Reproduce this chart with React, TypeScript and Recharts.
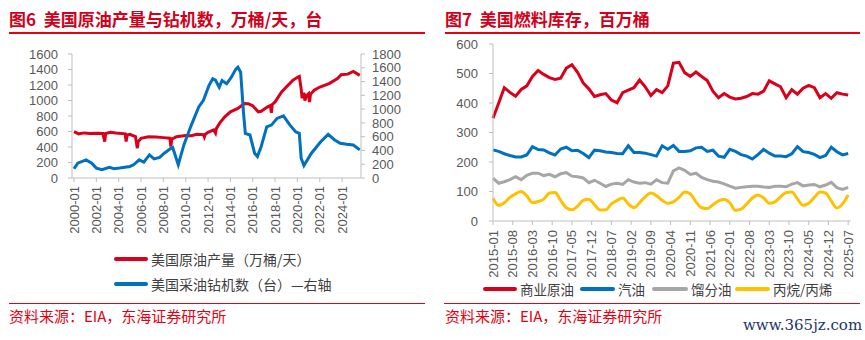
import React from 'react';
import { LineChart, Line, XAxis, YAxis } from 'recharts';

// ---------- Figure 6 data ----------
const prodDates = ["2000-01","2000-06","2000-12","2001-06","2002-01","2002-08","2002-10","2002-11","2003-04","2003-10","2004-01","2004-08","2004-09","2004-10","2005-01","2005-07","2005-09","2005-10","2006-01","2006-09","2007-05","2008-01","2008-08","2008-09","2008-10","2009-03","2010-01","2010-07","2011-01","2011-08","2011-09","2011-10","2012-01","2012-07","2012-09","2012-10","2013-02","2013-07","2014-01","2014-09","2015-04","2015-08","2016-01","2016-07","2016-10","2017-05","2017-08","2017-09","2017-10","2018-01","2018-08","2019-01","2019-08","2020-01","2020-03","2020-05","2020-06","2020-08","2020-09","2020-11","2021-01","2021-02","2021-03","2021-07","2022-01","2022-11","2023-08","2023-12","2024-07","2025-01","2025-08"];
const prodValues = [597,570,582,575,577,575,470,575,590,580,577,570,470,555,564,535,385,470,513,533,530,521,513,405,500,533,547,545,564,560,530,565,590,620,580,640,718,790,854,897,961,958,931,854,860,918,935,840,950,982,1110,1174,1260,1300,1310,1150,1030,1100,1000,1068,1090,980,1080,1132,1174,1218,1282,1333,1340,1375,1324];

const rigDates = ["2000-01","2000-05","2001-02","2001-08","2002-01","2002-07","2003-03","2003-08","2004-02","2005-01","2005-05","2005-11","2006-04","2006-10","2007-03","2007-09","2008-02","2008-09","2008-11","2009-05","2009-11","2010-07","2011-03","2011-08","2012-02","2012-06","2012-09","2013-01","2013-04","2013-09","2014-02","2014-07","2014-09","2014-12","2015-03","2015-05","2015-10","2016-03","2016-06","2016-10","2017-04","2017-09","2018-03","2018-10","2019-05","2019-11","2020-03","2020-05","2020-08","2021-04","2022-02","2022-10","2023-05","2023-11","2024-06","2025-01","2025-08"];
const rigValues = [134,216,263,216,144,120,154,134,144,168,192,263,230,336,278,298,360,432,442,192,480,768,1031,1128,1344,1440,1420,1319,1416,1368,1463,1584,1608,1535,959,648,624,360,312,455,743,768,864,902,768,671,648,288,181,360,527,634,552,504,490,480,408];

const fig6XTicks = ["2000-01","2002-01","2004-01","2006-01","2008-01","2010-01","2012-01","2014-01","2016-01","2018-01","2020-01","2022-01","2024-01"];
const fig6LeftTicks = [0,200,400,600,800,1000,1200,1400,1600];
const fig6RightTicks = [0,200,400,600,800,1000,1200,1400,1600,1800];

// ---------- Figure 7 data (every 2 months from 2015-01) ----------
const invStart = "2015-01";
const crudeValues = [348,399,452,436,423,446,458,490,510,497,486,480,484,518,530,504,468,448,422,428,432,410,401,435,444,452,478,455,425,445,435,458,535,538,503,490,505,490,476,440,418,432,420,414,416,422,432,430,440,475,465,455,418,445,430,450,460,452,418,432,416,435,430,427];
const gasolineValues = [241,236,228,222,217,217,224,252,242,241,231,224,244,250,238,240,229,215,240,238,234,232,229,228,255,232,232,230,225,220,255,243,256,236,236,238,248,250,236,240,220,216,243,236,225,220,210,225,243,230,220,220,218,228,252,235,232,226,215,222,250,235,224,229];
const distillateValues = [145,128,133,140,150,140,155,162,162,154,158,150,160,164,152,150,146,130,138,128,117,125,128,124,140,132,128,130,125,140,130,128,170,180,172,158,162,148,140,135,132,126,118,111,114,116,118,118,115,114,118,118,116,125,130,119,122,124,116,122,131,113,107,114];
const propaneValues = [77,53,62,80,92,100,85,62,66,74,95,97,70,45,38,50,70,74,55,37,38,58,70,78,58,45,62,82,95,86,70,60,65,80,98,92,65,45,42,55,68,74,62,36,40,58,78,88,78,60,65,82,97,98,75,53,60,80,98,95,68,44,58,88];

const fig7XTicks = ["2015-01","2015-08","2016-03","2016-10","2017-05","2017-12","2018-07","2019-02","2019-09","2020-04","2020-11","2021-06","2022-01","2022-08","2023-03","2023-10","2024-05","2024-12","2025-07"];
const fig7YTicks = [0,100,200,300,400,500,600];

// ---------- helpers ----------
const RED = '#D9001B';
const BLUE = '#0070C0';
const GRAY = '#A6A6A6';
const YELLOW = '#FFC000';
const TITLE_RED = '#D2001A';
const AXIS = '#BFBFBF';
const TXT = '#595959';
const NUM_FONT = '"Liberation Sans", Arial, sans-serif';
const CJK_FONT = '"Noto Sans CJK SC", "Noto Sans", sans-serif';

const yearFrac = (s: string) => {
  const [y, m] = s.split('-').map(Number);
  return y + (m - 1) / 12;
};
const monthIdx = (s: string) => {
  const [y, m] = s.split('-').map(Number);
  const [y0, m0] = invStart.split('-').map(Number);
  return (y - y0) * 12 + (m - m0);
};
const idxLabel = (i: number) => {
  const [y0, m0] = invStart.split('-').map(Number);
  const total = y0 * 12 + (m0 - 1) + Math.round(i);
  const y = Math.floor(total / 12);
  const m = (total % 12) + 1;
  return `${y}-${m < 10 ? '0' + m : m}`;
};

const prodData = prodDates.map((d, i) => ({ t: yearFrac(d), v: prodValues[i] }));
const rigData = rigDates.map((d, i) => ({ t: yearFrac(d), v: rigValues[i] }));
const fig6TickNums = fig6XTicks.map(yearFrac);
const fig6Label = (v: number) => {
  const y = Math.floor(v + 1e-6);
  return `${y}-01`;
};

const invData = crudeValues.map((_, i) => ({
  m: i * 2,
  crude: crudeValues[i],
  gasoline: gasolineValues[i],
  distillate: distillateValues[i],
  propane: propaneValues[i],
}));
const fig7TickNums = fig7XTicks.map(monthIdx);

const RotTick = (props: any) => {
  const { x, y, payload, fmt } = props;
  return (
    <text
      x={x}
      y={y}
      transform={`rotate(-90 ${x} ${y})`}
      textAnchor="end"
      dominantBaseline="central"
      fill={TXT}
      fontSize={13}
      fontFamily={NUM_FONT}
    >
      {fmt(payload.value)}
    </text>
  );
};

const tickStyle = { fill: TXT, fontSize: 13, fontFamily: NUM_FONT };

const LegendItem = ({ color, label, x, y, w = 34, fs = 13 }: any) => (
  <div style={{ position: 'absolute', left: x, top: y - 10, height: 20, display: 'flex', alignItems: 'center', whiteSpace: 'nowrap' }}>
    <div style={{ width: w, height: 4, background: color, borderRadius: 2 }} />
    <span style={{ marginLeft: 3, fontSize: fs, color: '#404040', fontFamily: CJK_FONT, lineHeight: '20px' }}>{label}</span>
  </div>
);

export default function App() {
  return (
    <div style={{ position: 'absolute', left: 0, top: 0, width: 865, height: 340, background: '#fff', overflow: 'hidden', fontFamily: CJK_FONT }}>
      {/* ---------- Figure 6 ---------- */}
      <div style={{ position: 'absolute', left: 9, top: 8, fontSize: 17, fontWeight: 700, color: TITLE_RED, whiteSpace: 'pre', lineHeight: '22px' }}>
        {'图6  美国原油产量与钻机数，万桶/天，台'}
      </div>
      <div style={{ position: 'absolute', left: 9, top: 32, width: 416, height: 2, background: '#E60012' }} />

      <div style={{ position: 'absolute', left: 0, top: 0 }}>
        <LineChart width={430} height={238} margin={{ top: 54, right: 0, bottom: 0, left: 0 }}>
          <XAxis
            dataKey="t"
            type="number"
            domain={[1999.82, 2025.69]}
            ticks={fig6TickNums}
            interval={0}
            height={60}
            axisLine={{ stroke: AXIS }}
            tickLine={{ stroke: AXIS }}
            tickSize={4}
            tickMargin={4}
            tick={<RotTick fmt={fig6Label} />}
            allowDataOverflow
          />
          <YAxis
            yAxisId="left"
            orientation="left"
            width={72}
            domain={[0, 1600]}
            ticks={fig6LeftTicks}
            interval={0}
            axisLine={{ stroke: AXIS }}
            tickLine={{ stroke: AXIS }}
            tickSize={4}
            tickMargin={10}
            tick={tickStyle}
          />
          <YAxis
            yAxisId="right"
            orientation="right"
            width={69}
            domain={[0, 1800]}
            ticks={fig6RightTicks}
            interval={0}
            axisLine={{ stroke: AXIS }}
            tickLine={{ stroke: AXIS }}
            tickSize={4}
            tickMargin={7}
            tick={tickStyle}
          />
          <Line yAxisId="left" data={prodData} dataKey="v" type="linear" stroke={RED} strokeWidth={3} dot={false} isAnimationActive={false} />
          <Line yAxisId="right" data={rigData} dataKey="v" type="linear" stroke={BLUE} strokeWidth={3} dot={false} isAnimationActive={false} />
        </LineChart>
      </div>

      <LegendItem color={RED} label="美国原油产量（万桶/天）" x={114} y={259} fs={14} />
      <LegendItem color={BLUE} label="美国采油钻机数（台）—右轴" x={114} y={284} fs={14} />

      <div style={{ position: 'absolute', left: 9, top: 303, width: 416, height: 1, background: '#E60012' }} />
      <div style={{ position: 'absolute', left: 9, top: 306, fontSize: 15, color: '#E60012', whiteSpace: 'nowrap', lineHeight: '20px' }}>
        资料来源：EIA，东海证券研究所
      </div>

      {/* ---------- Figure 7 ---------- */}
      <div style={{ position: 'absolute', left: 445, top: 8, fontSize: 17, fontWeight: 700, color: TITLE_RED, whiteSpace: 'pre', lineHeight: '22px' }}>
        {'图7  美国燃料库存，百万桶'}
      </div>
      <div style={{ position: 'absolute', left: 445, top: 32, width: 415, height: 2, background: '#E60012' }} />

      <div style={{ position: 'absolute', left: 430, top: 0 }}>
        <LineChart width={435} height={281} data={invData} margin={{ top: 44, right: 14, bottom: 0, left: 0 }}>
          <XAxis
            dataKey="m"
            type="number"
            domain={[0, 127]}
            ticks={fig7TickNums}
            interval={0}
            height={60}
            axisLine={{ stroke: AXIS }}
            tickLine={{ stroke: AXIS }}
            tickSize={4}
            tickMargin={5}
            tick={<RotTick fmt={idxLabel} />}
          />
          <YAxis
            width={63}
            domain={[0, 600]}
            ticks={fig7YTicks}
            interval={0}
            axisLine={{ stroke: AXIS }}
            tickLine={{ stroke: AXIS }}
            tickSize={4}
            tickMargin={11}
            tick={tickStyle}
          />
          <Line dataKey="crude" type="linear" stroke={RED} strokeWidth={3} dot={false} isAnimationActive={false} />
          <Line dataKey="gasoline" type="linear" stroke={BLUE} strokeWidth={3} dot={false} isAnimationActive={false} />
          <Line dataKey="distillate" type="linear" stroke={GRAY} strokeWidth={3} dot={false} isAnimationActive={false} />
          <Line dataKey="propane" type="monotone" stroke={YELLOW} strokeWidth={3} dot={false} isAnimationActive={false} />
        </LineChart>
      </div>

      <LegendItem color={RED} label="商业原油" x={483} y={289} fs={13.5} />
      <LegendItem color={BLUE} label="汽油" x={580} y={289} w={35} fs={13.5} />
      <LegendItem color={GRAY} label="馏分油" x={652} y={289} w={36} fs={13.5} />
      <LegendItem color={YELLOW} label="丙烷/丙烯" x={735} y={289} w={35} fs={13.5} />

      <div style={{ position: 'absolute', left: 444, top: 303, width: 416, height: 1, background: '#E60012' }} />
      <div style={{ position: 'absolute', left: 445, top: 306, fontSize: 15, color: '#E60012', whiteSpace: 'nowrap', lineHeight: '20px' }}>
        资料来源：EIA，东海证券研究所
      </div>
      <div style={{ position: 'absolute', left: 743, top: 315, fontSize: 15, color: '#1F3566', fontFamily: '"DejaVu Serif", "Liberation Serif", serif', whiteSpace: 'nowrap', lineHeight: '20px' }}>
        www.365jz.com
      </div>
    </div>
  );
}
